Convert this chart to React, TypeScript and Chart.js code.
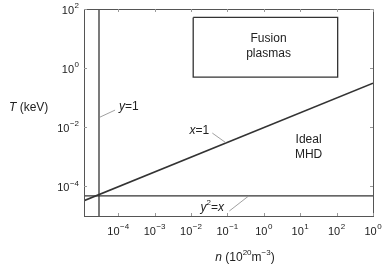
import React, { useEffect, useRef } from "react";
import { Chart, registerables } from "chart.js";

Chart.register(...registerables);

// Axis ranges (n in 1e20 m^-3, T in keV)
const xRange = [1.15e-5, 1e3];
const yRange = [1e-5, 1e2];

// Tick positions (decade exponents) and their printed exponents
const xTickExps = [-4, -3, -2, -1, 0, 1, 2, 3];
const xTickLabels = ["−4", "−3", "−2", "−1", "0", "1", "2", "0"];
const yTickExps = [2, 0, -2, -4];
const yTickLabels = ["2", "0", "−2", "−4"];

// Boundary lines
const lineY1 = [
  { x: 2.97e-5, y: 1e-5 },
  { x: 2.97e-5, y: 1e2 },
];
const lineY2X = [
  { x: 1.15e-5, y: 4.8e-5 },
  { x: 1e3, y: 4.8e-5 },
];
const lineX1 = [
  { x: 1.15e-5, y: 3.3e-5 },
  { x: 1e3, y: 0.31 },
];
const fusionBox = [
  { x: 0.0115, y: 52 },
  { x: 107, y: 52 },
  { x: 107, y: 0.5 },
  { x: 0.0115, y: 0.5 },
  { x: 0.0115, y: 52 },
];

// Text annotations: [text, n, T, align]
const labels: [string, number, number, CanvasTextAlign][] = [
  ["Fusion", 1.35, 10.3, "center"],
  ["plasmas", 1.35, 3.2, "center"],
  ["Ideal", 17, 0.0037, "center"],
  ["MHD", 17, 0.00115, "center"],
];
// Leader lines: [n1, T1, n2, T2]
const leaders: number[][] = [
  [3.17e-5, 0.0221, 8.2e-5, 0.0381],
  [0.0385, 0.00637, 0.0938, 0.00292],
  [0.1135, 1.48e-5, 0.378, 4.7e-5],
];

const FONT = '"Liberation Sans", Arial, Helvetica, sans-serif';
const TXT = "#222";

function drawPow(ctx: CanvasRenderingContext2D, base: string, exp: string, x: number, y: number, align: "center" | "right" | "left") {
  ctx.font = `11px ${FONT}`;
  const bw = ctx.measureText(base).width;
  ctx.font = `8px ${FONT}`;
  const ew = ctx.measureText(exp).width;
  const total = bw + ew + 0.5;
  let x0 = x;
  if (align === "center") x0 = x - total / 2;
  else if (align === "right") x0 = x - total;
  ctx.textAlign = "left";
  ctx.textBaseline = "middle";
  ctx.font = `11px ${FONT}`;
  ctx.fillText(base, x0, y);
  ctx.font = `8px ${FONT}`;
  ctx.fillText(exp, x0 + bw + 0.5, y - 5);
}

function italicRun(ctx: CanvasRenderingContext2D, parts: [string, string, number][], x: number, y: number) {
  let cx = x;
  ctx.textAlign = "left";
  ctx.textBaseline = "middle";
  for (const [t, f, dy] of parts) {
    ctx.font = f;
    ctx.fillText(t, cx, y + dy);
    cx += ctx.measureText(t).width;
  }
  return cx - x;
}
function measureRun(ctx: CanvasRenderingContext2D, parts: [string, string, number][]) {
  let w = 0;
  for (const [t, f] of parts) {
    ctx.font = f;
    w += ctx.measureText(t).width;
  }
  return w;
}

const overlay = {
  id: "overlay",
  afterDraw(chart: any) {
    const ctx: CanvasRenderingContext2D = chart.ctx;
    const xs = chart.scales.x;
    const ys = chart.scales.y;
    const a = chart.chartArea;
    ctx.save();
    // frame
    ctx.strokeStyle = "#555";
    ctx.lineWidth = 1;
    ctx.strokeRect(Math.round(a.left) + 0.5, Math.round(a.top) + 0.5, Math.round(a.right - a.left), Math.round(a.bottom - a.top));
    // ticks
    ctx.strokeStyle = "#999";
    ctx.beginPath();
    xTickExps.forEach((e) => {
      const px = Math.round(xs.getPixelForValue(Math.pow(10, e))) + 0.5;
      ctx.moveTo(px, a.bottom);
      ctx.lineTo(px, a.bottom - 3);
      ctx.moveTo(px, a.top);
      ctx.lineTo(px, a.top + 3);
    });
    yTickExps.forEach((e) => {
      const py = Math.round(ys.getPixelForValue(Math.pow(10, e))) + 0.5;
      ctx.moveTo(a.left, py);
      ctx.lineTo(a.left + 3, py);
      ctx.moveTo(a.right, py);
      ctx.lineTo(a.right - 3, py);
    });
    ctx.stroke();
    // tick labels
    ctx.fillStyle = TXT;
    xTickExps.forEach((e, i) => {
      const px = xs.getPixelForValue(Math.pow(10, e));
      drawPow(ctx, "10", xTickLabels[i], px, a.bottom + 16, "center");
    });
    yTickExps.forEach((e, i) => {
      const py = ys.getPixelForValue(Math.pow(10, e));
      drawPow(ctx, "10", yTickLabels[i], a.left - 5, py + 2, "right");
    });
    // axis titles
    const fI = `italic 12px ${FONT}`;
    const fN = `12px ${FONT}`;
    const fS = `8px ${FONT}`;
    italicRun(ctx, [["T", fI, 0], [" (keV)", fN, 0]], 9, 108);
    const xt: [string, string, number][] = [["n", fI, 0], [" (10", fN, 0], ["20", fS, -5], ["m", fN, 0], ["−3", fS, -5], [")", fN, 0]];
    const w = measureRun(ctx, xt);
    italicRun(ctx, xt, 245 - w / 2, 258);
    // leaders
    ctx.strokeStyle = "#888";
    ctx.lineWidth = 0.8;
    ctx.beginPath();
    leaders.forEach(([n1, t1, n2, t2]) => {
      ctx.moveTo(xs.getPixelForValue(n1), ys.getPixelForValue(t1));
      ctx.lineTo(xs.getPixelForValue(n2), ys.getPixelForValue(t2));
    });
    ctx.stroke();
    // annotation labels
    ctx.fillStyle = TXT;
    labels.forEach(([t, n, T, al]) => {
      ctx.font = `12px ${FONT}`;
      ctx.textAlign = al;
      ctx.textBaseline = "middle";
      ctx.fillText(t, xs.getPixelForValue(n), ys.getPixelForValue(T));
    });
    const fA = `italic 12px ${FONT}`;
    // y=1
    italicRun(ctx, [["y", fA, 0], ["=1", fN, 0]], xs.getPixelForValue(1.06e-4), ys.getPixelForValue(0.048));
    // x=1
    {
      const p: [string, string, number][] = [["x", fA, 0], ["=1", fN, 0]];
      const ww = measureRun(ctx, p);
      italicRun(ctx, p, xs.getPixelForValue(0.0169) - ww / 2, ys.getPixelForValue(0.00745));
    }
    // y^2=x
    {
      const p: [string, string, number][] = [["y", fA, 0], ["2", fS, -5], ["=", fN, 0], ["x", fA, 0]];
      const ww = measureRun(ctx, p);
      italicRun(ctx, p, xs.getPixelForValue(0.0385) - ww / 2, ys.getPixelForValue(1.86e-5));
    }
    ctx.restore();
  },
};

export default function App() {
  const ref = useRef<HTMLCanvasElement>(null);
  useEffect(() => {
    if (!ref.current) return;
    const mk = (data: any[], w: number) => ({
      data,
      showLine: true,
      pointRadius: 0,
      borderColor: "#333",
      borderWidth: w,
      fill: false,
      tension: 0,
    });
    const chart = new Chart(ref.current, {
      type: "scatter",
      data: {
        datasets: [mk(lineY1, 1.3), mk(lineY2X, 1.3), mk(lineX1, 1.6), mk(fusionBox, 1.3)],
      },
      options: {
        responsive: false,
        animation: false,
        events: [],
        layout: { padding: { left: 84, right: 10, top: 9, bottom: 50 } },
        plugins: { legend: { display: false }, tooltip: { enabled: false } },
        scales: {
          x: { type: "logarithmic", min: xRange[0], max: xRange[1], display: false },
          y: { type: "logarithmic", min: yRange[0], max: yRange[1], display: false },
        },
      },
      plugins: [overlay],
    });
    return () => chart.destroy();
  }, []);
  return (
    <div style={{ position: "absolute", left: 0, top: 0, width: 383, height: 266, background: "#fff" }}>
      <canvas ref={ref} width={383} height={266} style={{ display: "block" }} />
    </div>
  );
}
